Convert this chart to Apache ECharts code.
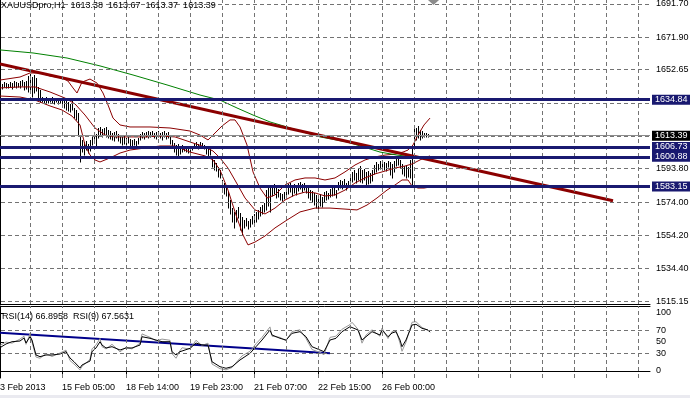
<!DOCTYPE html>
<html>
<head>
<meta charset="utf-8">
<script src="https://cdn.jsdelivr.net/npm/echarts@6/dist/echarts.min.js"></script>
<style>
  html, body { margin: 0; padding: 0; background: #fff; }
  #chart { width: 690px; height: 398px; }
</style>
</head>
<body>
<div id="chart"></div>
<script>
// bar index -> one H1 bar (2 px each)
var highs = [1644.7,1644.2,1645.3,1644.7,1644.2,1645.3,1644.7,1645.9,1645.3,1644.7,
  1645.9,1646.5,1645.3,1645.9,1648.9,1650.1,1648.3,1649.5,1647.7,1642.4,
  1640.6,1636.4,1635.8,1636.4,1635.2,1635.8,1636.4,1635.2,1635.8,1635.2,
  1635.8,1635.2,1634.6,1635.8,1633.5,1632.3,1634.0,1629.9,1628.7,1626.9,
  1613.8,1610.9,1609.7,1610.3,1608.5,1610.9,1613.2,1615.0,1614.4,1618.0,
  1618.6,1617.4,1618.0,1618.6,1616.8,1616.2,1615.0,1615.6,1616.2,1614.4,
  1613.2,1612.7,1613.2,1612.1,1612.7,1611.5,1610.9,1611.5,1610.3,1612.1,
  1614.4,1615.6,1615.0,1615.6,1616.2,1615.6,1616.2,1615.0,1615.6,1616.2,
  1615.0,1615.6,1616.2,1615.0,1615.6,1612.7,1610.9,1609.1,1607.9,1608.5,
  1606.7,1607.9,1607.3,1606.7,1607.3,1606.1,1607.3,1609.1,1609.7,1608.5,
  1609.7,1609.1,1607.9,1607.3,1606.1,1605.5,1600.8,1599.0,1597.2,1594.8,
  1593.0,1587.1,1585.3,1583.5,1579.9,1575.2,1570.4,1568.1,1569.3,1571.0,
  1567.5,1565.1,1563.3,1564.5,1562.7,1563.9,1565.7,1566.9,1568.1,1569.3,
  1571.0,1572.2,1573.4,1581.1,1583.5,1582.3,1584.1,1584.7,1582.9,1581.7,
  1579.4,1578.8,1579.9,1583.5,1584.7,1585.3,1584.1,1584.7,1583.5,1585.3,
  1585.9,1584.7,1585.3,1584.1,1582.3,1581.1,1580.5,1579.4,1578.2,1577.6,
  1578.8,1577.0,1579.9,1580.5,1579.4,1581.7,1582.9,1582.3,1581.1,1585.9,
  1587.1,1586.5,1587.7,1585.3,1586.5,1590.1,1591.9,1593.0,1591.3,1594.2,
  1595.4,1593.0,1593.6,1591.9,1592.4,1591.3,1593.0,1596.0,1597.8,1596.6,
  1598.4,1599.0,1597.8,1597.2,1598.4,1597.8,1596.6,1598.4,1600.2,1600.8,
  1599.0,1596.6,1595.4,1596.0,1594.8,1599.0,1607.9,1619.8,1618.0,1619.2,
  1616.8,1616.2,1615.0,1615.0,1614.4,1613.67];
var lows = [1641.8,1641.2,1642.4,1641.8,1641.8,1642.4,1641.2,1642.4,1641.8,1642.4,
  1641.8,1643.0,1640.6,1641.2,1639.4,1640.6,1636.4,1638.8,1640.0,1634.6,
  1633.5,1633.5,1632.9,1632.3,1632.9,1633.5,1632.9,1632.3,1633.5,1632.3,
  1632.9,1631.1,1629.9,1628.7,1628.1,1627.5,1628.7,1623.9,1622.8,1613.8,
  1597.8,1603.7,1601.9,1604.9,1603.1,1604.3,1607.9,1609.1,1607.3,1612.1,
  1613.2,1612.7,1613.8,1612.7,1612.1,1611.5,1610.9,1610.3,1612.1,1610.3,
  1609.1,1607.9,1608.5,1607.9,1609.1,1607.3,1606.7,1607.9,1607.3,1608.5,
  1610.9,1612.1,1611.5,1612.7,1612.1,1612.7,1613.2,1612.1,1611.5,1612.7,
  1612.1,1610.9,1612.7,1611.5,1612.1,1608.5,1607.3,1603.7,1601.9,1600.8,
  1602.5,1603.7,1604.3,1603.7,1603.1,1603.7,1604.9,1606.1,1606.7,1605.5,
  1606.1,1606.7,1605.5,1602.5,1601.4,1601.9,1594.8,1593.0,1592.4,1588.9,
  1588.3,1579.9,1578.8,1577.6,1570.4,1566.9,1562.1,1558.6,1562.1,1564.5,
  1557.4,1554.4,1558.6,1559.7,1558.0,1559.2,1560.9,1561.5,1562.1,1563.9,
  1565.7,1566.9,1568.1,1569.3,1571.6,1568.1,1577.6,1578.8,1576.4,1577.0,
  1575.2,1574.6,1575.8,1578.2,1578.8,1579.9,1577.6,1579.4,1578.2,1580.5,
  1581.7,1579.9,1581.1,1579.4,1576.4,1575.2,1574.0,1572.2,1570.4,1569.3,
  1571.6,1571.0,1574.0,1575.2,1575.8,1577.0,1577.6,1578.2,1576.4,1581.1,
  1582.3,1581.7,1582.9,1581.1,1583.5,1584.7,1585.9,1587.1,1585.3,1587.1,
  1585.9,1585.3,1587.1,1583.5,1584.7,1585.3,1586.5,1590.7,1591.9,1593.0,
  1593.6,1594.2,1593.0,1592.4,1594.8,1590.1,1588.3,1591.9,1595.4,1596.0,
  1594.2,1590.7,1589.5,1588.3,1588.9,1588.3,1583.5,1606.1,1610.9,1612.1,
  1610.9,1612.1,1612.7,1612.7,1612.7,1613.37];

// Bollinger(20): [bar, price]
var bandUpper = [[0,1646.5],[10,1648.3],[15,1650.7],[20,1650.7],[25,1648.9],[31,1647.7],[34,1645.9],
  [36.5,1641.8],[38.5,1638.8],[41,1645.3],[45,1647.1],[48.5,1644.7],[51.5,1638.8],[54,1631.7],
  [56.5,1623.9],[60,1619.8],[65,1618.6],[75,1618.6],[85,1618.0],[95,1616.2],[100,1613.8],
  [104,1610.9],[107.5,1615.0],[111,1619.2],[115,1622.8],[117.5,1622.8],[120,1618.6],[123.5,1607.9],
  [126.5,1591.9],[130,1582.3],[133.5,1576.4],[137.5,1578.2],[142.5,1584.1],[147.5,1587.1],
  [152.5,1588.3],[157.5,1588.3],[162.5,1587.1],[167.5,1588.3],[172.5,1591.9],[177.5,1596.0],
  [182.5,1599.0],[187.5,1600.8],[192.5,1601.9],[197.5,1602.5],[201.5,1603.7],[204,1604.9],
  [206.5,1607.9],[209,1613.8],[212,1619.8],[215,1623.9]];
var bandMiddle = [[0,1641.8],[10,1642.4],[17.5,1642.4],[25,1639.4],[32.5,1635.8],[37.5,1632.3],
  [42.5,1625.7],[47.5,1618.0],[52.5,1613.8],[57.5,1612.7],[65,1612.7],[72.5,1612.7],[80,1613.2],
  [87.5,1612.7],[95,1609.7],[102.5,1606.7],[106.5,1604.3],[110,1600.2],[114,1594.2],[118,1585.9],
  [122.5,1576.4],[127.5,1569.3],[132.5,1566.9],[137.5,1570.4],[142.5,1575.2],[147.5,1578.2],
  [152.5,1579.9],[157.5,1579.4],[162.5,1577.6],[167.5,1578.2],[172.5,1581.1],[177.5,1585.3],
  [182.5,1588.3],[187.5,1590.7],[192.5,1592.4],[197.5,1594.2],[202.5,1595.4],[206,1596.6],
  [209,1598.4],[212,1600.2],[215,1601.4]];
var bandLower = [[0,1637.0],[10,1636.4],[17.5,1634.6],[25,1631.1],[31,1628.7],[36,1625.1],[40,1619.8],
  [42.5,1607.9],[45,1601.9],[47.5,1599.0],[50,1597.8],[55,1600.2],[60,1603.1],[65,1604.9],
  [72.5,1606.1],[80,1607.3],[87.5,1607.3],[95,1603.7],[102.5,1601.4],[106.5,1599.0],[110,1593.0],
  [114,1581.1],[118,1566.3],[121.5,1554.4],[124,1548.5],[127.5,1550.2],[132.5,1553.8],[137.5,1558.6],
  [143.5,1563.3],[150,1568.1],[157.5,1570.4],[165,1570.4],[172.5,1569.8],[178.5,1569.3],
  [183.5,1572.2],[188.5,1576.4],[193.5,1581.1],[197.5,1584.1],[201,1587.1],[204,1587.1],
  [206,1583.5],[209,1582.3],[212,1582.3],[215,1582.9]];

// long moving average (green)
var maSlow = [[0,1664.4],[16.5,1662.6],[33.5,1659.6],[50,1654.9],[66.5,1649.5],[83.5,1643.6],
  [100,1637.6],[110,1634.6],[118.5,1629.9],[126.5,1625.7],[135,1621.6],[143.5,1618.6],
  [151.5,1615.6],[160,1612.7],[173.5,1609.7],[183.5,1606.1],[190,1603.7],[198.5,1601.9],
  [206.5,1600.8],[215,1599.0]];

var trendLine = [[0,1656.0],[306.5,1574.8]];
var levels = [1634.84, 1606.73, 1600.88, 1583.15];
var bidPrice = 1613.39;

// price scale ticks (grid) and the ones that show a label
var priceGrid = [1691.70,1671.90,1652.65,1632.85,1613.24,1593.80,1574.00,1554.20,1534.40,1515.15];
var priceLabels = [1691.70,1671.90,1652.65,1593.80,1574.00,1554.20,1534.40,1515.15];
var gridBars = [15,31,47,63,79,95,111,127,143,159,175,191,207,223,239,255,271,287,303,319];
var timeBars = [-2.5,31,63,95,127,159,191];
var timeLabels = ['13 Feb 2013','15 Feb 05:00','18 Feb 14:00','19 Feb 23:00','21 Feb 07:00','22 Feb 15:00','26 Feb 00:00'];

// RSI panel
var rsi14 = [[0,40.2],[3,46.6],[6,50.5],[10,51.7],[12,56.9],[13,48.3],[15,59.1],[16,53.4],[18,27.6],
  [20,24.7],[23,27.6],[26,27.6],[30,29.3],[33,33.3],[35,22.4],[37,16.0],[40,5.2],[41,10.3],[43,13.8],
  [45,17.2],[46,33.3],[48,39.7],[50,50.5],[51,44.8],[53,39.7],[56,41.9],[60,36.2],[63,39.7],[66,39.7],
  [70,44.8],[71,59.1],[75,56.4],[78,53.4],[81,50.5],[85,50.5],[86,33.3],[88,27.6],[90,33.3],[91,36.2],
  [95,39.1],[98,48.3],[101,44.8],[104,44.8],[106,16.0],[110,7.4],[113,4.7],[116,7.4],[120,19.0],
  [121,22.4],[125,30.5],[128,41.9],[131,53.4],[135,70.7],[136,62.1],[140,56.4],[143,53.4],[146,65.0],
  [150,67.8],[153,59.1],[156,41.9],[160,36.2],[162,33.3],[165,53.4],[168,56.4],[171,67.8],[175,76.4],
  [176,79.3],[179,70.7],[181,53.4],[183,59.1],[186,67.8],[190,62.1],[191,70.7],[194,59.1],[196,65.5],
  [198,67.8],[200,53.4],[201,41.9],[203,53.4],[206,79.3],[208,80.5],[211,73.6],[214,70.7],[215,66.9]];
var rsi9 = [[0,44],[3,50],[6,48],[10,55],[12,60],[13,46],[15,64],[16,50],[18,24],[20,22],[23,30],
  [26,25],[30,31],[33,36],[35,18],[37,12],[40,2],[41,8],[43,14],[45,20],[46,38],[48,45],[50,56],
  [51,42],[53,38],[56,46],[60,33],[63,41],[66,38],[70,48],[71,64],[75,58],[78,52],[81,55],[85,53],
  [86,30],[88,22],[90,35],[91,40],[95,38],[98,53],[101,44],[104,48],[106,12],[110,4],[113,2],[116,6],
  [120,22],[121,26],[125,34],[128,47],[131,58],[135,76],[136,60],[140,58],[143,52],[146,68],[150,71],
  [153,56],[156,37],[160,32],[162,28],[165,58],[168,60],[171,72],[175,80],[176,84],[179,72],[181,48],
  [183,62],[186,71],[190,60],[191,74],[194,56],[196,68],[198,70],[200,48],[201,34],[203,50],[206,84],
  [208,85],[211,75],[214,70],[215,67.6]];
var rsiTrend = [[0,66.0],[165,30.5]];
var rsiGrid = [70, 30];
var rsiLabels = [0, 30, 50, 70, 100];

var FONT = 'Liberation Sans';
var bars = highs.map(function (h, i) { return [i, lows[i], h]; });

var chart = echarts.init(document.getElementById('chart'), null, { renderer: 'canvas' });

function dashed(color) { return { color: color, width: 1, type: [4, 3] }; }

var option = {
  animation: false,
  backgroundColor: '#fff',
  title: [
    { text: 'XAUUSDpro,H1  1613.38  1613.67  1613.37  1613.39', left: 1, top: 1, padding: 0,
      textStyle: { fontFamily: FONT, fontSize: 9, fontWeight: 'normal', color: '#000' } },
    { text: 'RSI(14) 66.8958  RSI(9) 67.5631', left: 2, top: 312, padding: 0,
      textStyle: { fontFamily: FONT, fontSize: 9, fontWeight: 'normal', color: '#000' } }
  ],
  grid: [
    { left: -6, top: 0, width: 656, height: 304, outerBoundsMode: 'none', containLabel: false },
    { left: -6, top: 306, width: 656, height: 72, outerBoundsMode: 'none', containLabel: false }
  ],
  xAxis: [
    { type: 'value', gridIndex: 0, min: -3, max: 325, position: 'bottom',
      axisLine: { show: true, lineStyle: { color: '#000', width: 1 } },
      axisTick: { show: false }, axisLabel: { show: false }, splitLine: { show: false } },
    { type: 'value', gridIndex: 1, min: -3, max: 325, position: 'bottom',
      axisLine: { show: true, lineStyle: { color: '#000', width: 1 } },
      axisTick: { show: true, customValues: timeBars, length: 3, lineStyle: { color: '#000' } },
      axisLabel: { show: true, customValues: timeBars, align: 'left', margin: 5,
        fontFamily: FONT, fontSize: 9, color: '#000',
        formatter: function (v) { return timeLabels[timeBars.indexOf(v)] || ''; } },
      splitLine: { show: false } },
    { type: 'value', gridIndex: 1, min: -3, max: 325, position: 'top',
      axisLine: { show: true, lineStyle: { color: '#000', width: 1 } },
      axisTick: { show: false }, axisLabel: { show: false }, splitLine: { show: false } }
  ],
  yAxis: [
    { type: 'value', gridIndex: 0, position: 'right', min: 1513.38, max: 1694.08,
      axisLine: { show: true, lineStyle: { color: '#000' } },
      axisTick: { show: true, customValues: priceLabels, length: 4, lineStyle: { color: '#000' } },
      axisLabel: { show: true, customValues: priceLabels, margin: 6, fontFamily: FONT, fontSize: 9, color: '#000',
        formatter: function (v) { return v.toFixed(2); } },
      splitLine: { show: false } },
    { type: 'value', gridIndex: 1, position: 'right', min: -12.07, max: 112.07,
      axisLine: { show: true, lineStyle: { color: '#000' } },
      axisTick: { show: true, customValues: rsiLabels, length: 4, lineStyle: { color: '#000' } },
      axisLabel: { show: true, customValues: rsiLabels, margin: 6, fontFamily: FONT, fontSize: 9, color: '#000' },
      splitLine: { show: false } }
  ],
  series: [
    { name: 'gridMain', type: 'line', xAxisIndex: 0, yAxisIndex: 0, data: [], silent: true,
      markLine: { symbol: 'none', silent: true, label: { show: false }, lineStyle: dashed('#737373'),
        data: gridBars.map(function (b) { return { xAxis: b }; })
          .concat(priceGrid.map(function (p) { return { yAxis: p }; })) } },
    { name: 'gridRsi', type: 'line', xAxisIndex: 1, yAxisIndex: 1, data: [], silent: true,
      markLine: { symbol: 'none', silent: true, label: { show: false }, lineStyle: dashed('#737373'),
        data: gridBars.map(function (b) { return { xAxis: b }; })
          .concat(rsiGrid.map(function (p) { return { yAxis: p }; })) } },
    { name: 'bid', type: 'line', xAxisIndex: 0, yAxisIndex: 0, data: [], silent: true,
      markLine: { symbol: 'none', silent: true,
        lineStyle: { color: '#8c8c8c', width: 1, type: 'solid' },
        label: { show: true, position: 'end', distance: 2, formatter: function (p) { return p.value.toFixed(2); },
          fontFamily: FONT, fontSize: 9, color: '#fff', backgroundColor: '#000', padding: [1, 3, 0, 3] },
        data: [{ yAxis: bidPrice }] } },
    { name: 'upper', type: 'line', xAxisIndex: 0, yAxisIndex: 0, data: bandUpper, showSymbol: false,
      lineStyle: { color: '#8b0000', width: 1 }, silent: true },
    { name: 'middle', type: 'line', xAxisIndex: 0, yAxisIndex: 0, data: bandMiddle, showSymbol: false,
      lineStyle: { color: '#8b0000', width: 1 }, silent: true },
    { name: 'lower', type: 'line', xAxisIndex: 0, yAxisIndex: 0, data: bandLower, showSymbol: false,
      lineStyle: { color: '#8b0000', width: 1 }, silent: true },
    { name: 'ma', type: 'line', xAxisIndex: 0, yAxisIndex: 0, data: maSlow, showSymbol: false,
      lineStyle: { color: '#008000', width: 1 }, silent: true },
    { name: 'bars', type: 'custom', xAxisIndex: 0, yAxisIndex: 0, data: bars, silent: true,
      encode: { x: 0, y: [1, 2] },
      renderItem: function (params, api) {
        var lo = api.coord([api.value(0), api.value(1)]);
        var hi = api.coord([api.value(0), api.value(2)]);
        var x = Math.round(lo[0]) + 0.5;
        return { type: 'line', shape: { x1: x, y1: Math.round(lo[1]) + 0.5, x2: x, y2: Math.round(hi[1]) },
          style: { stroke: '#000', lineWidth: 1 } };
      } },
    { name: 'trend', type: 'line', xAxisIndex: 0, yAxisIndex: 0, data: trendLine, showSymbol: false,
      lineStyle: { color: '#8b0000', width: 3 }, silent: true },
    { name: 'levels', type: 'line', xAxisIndex: 0, yAxisIndex: 0, data: [], silent: true,
      markLine: { symbol: 'none', silent: true,
        lineStyle: { color: '#191970', width: 3, type: 'solid' },
        label: { show: true, position: 'end', distance: 2, formatter: function (p) { return p.value.toFixed(2); },
          fontFamily: FONT, fontSize: 9, color: '#fff', backgroundColor: '#191970', padding: [1, 3, 0, 3] },
        data: levels.map(function (v) { return { yAxis: v }; }) } },
    { name: 'rsiTrend', type: 'line', xAxisIndex: 1, yAxisIndex: 1, data: rsiTrend, showSymbol: false,
      lineStyle: { color: '#00008b', width: 2 }, silent: true },
    { name: 'RSI(9)', type: 'line', xAxisIndex: 1, yAxisIndex: 1, data: rsi9, showSymbol: false,
      lineStyle: { color: '#999', width: 1 }, silent: true },
    { name: 'RSI(14)', type: 'line', xAxisIndex: 1, yAxisIndex: 1, data: rsi14, showSymbol: false,
      lineStyle: { color: '#000', width: 1 }, silent: true }
  ],
  graphic: [
    { type: 'polygon', silent: true, shape: { points: [[428, 0], [439, 0], [433.5, 5]] }, style: { fill: '#8c8c8c' } },
    { type: 'rect', silent: true, shape: { x: 0, y: 395, width: 690, height: 3 }, style: { fill: '#eaeaf0' } }
  ]
};

chart.setOption(option);
</script>
</body>
</html>
